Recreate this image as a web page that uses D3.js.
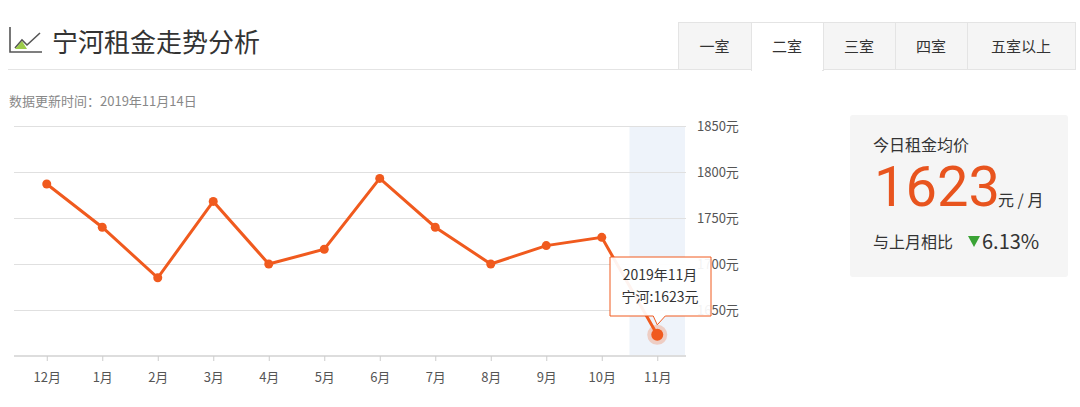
<!DOCTYPE html>
<html><head><meta charset="utf-8">
<script src="https://cdn.jsdelivr.net/npm/d3@7"></script>
<style>
body{margin:0;background:#fff;font-family:"Noto Sans CJK SC",sans-serif;}
</style></head><body>
<svg id="c" width="1080" height="407"></svg>
<script>
const months = ["12月","1月","2月","3月","4月","5月","6月","7月","8月","9月","10月","11月"];
const rents = [1787,1740,1685,1768,1700,1716,1793,1740,1700,1720,1729,1623];
const yTicks = [1650,1700,1750,1800,1850];
const tabs = ["一室","二室","三室","四室","五室以上"];
const orange = "#f05a1e";

const svg = d3.select("#c");

// header
svg.append("path").attr("d","M10 27 V52 H42").attr("fill","none").attr("stroke","#555").attr("stroke-width",1.6);
svg.append("path").attr("d","M15 48 L22 40 L27 45 L40 33").attr("fill","none").attr("stroke","#555").attr("stroke-width",1.6);
svg.append("path").attr("d","M15 49 L22 41 L27 49 Z").attr("fill","#9ccc4a");
svg.append("text").attr("x",52).attr("y",52).attr("font-size",26).attr("fill","#333").text("宁河租金走势分析");
svg.append("line").attr("x1",8).attr("x2",1075).attr("y1",69.5).attr("y2",69.5).attr("stroke","#e4e4e4");

const tabX = [678,751,823,895,967,1075];
tabs.forEach((t,i)=>{
  const g = svg.append("g");
  g.append("rect").attr("x",tabX[i]+0.5).attr("y",22.5).attr("width",tabX[i+1]-tabX[i]).attr("height",i===1?48:47)
    .attr("fill",i===1?"#fff":"#f5f5f5").attr("stroke","#e4e4e4");
  g.append("text").attr("x",(tabX[i]+tabX[i+1])/2).attr("y",52).attr("text-anchor","middle")
    .attr("font-size",15).attr("fill","#333").text(t);
});
svg.append("rect").attr("x",752).attr("y",68).attr("width",70).attr("height",4).attr("fill","#fff");

svg.append("text").attr("x",9).attr("y",106).attr("font-size",13).attr("fill","#888").text("数据更新时间：2019年11月14日");

// chart
const x = d3.scalePoint().domain(months).range([19,685]).padding(0.5);
const y = d3.scaleLinear().domain([1600,1850]).range([356,126]);
const step = x.step();

svg.append("rect").attr("x",x("11月")-step/2).attr("y",126).attr("width",step).attr("height",230).attr("fill","#eef3fa");

svg.append("g").selectAll("line").data(yTicks).join("line")
  .attr("x1",14).attr("x2",686).attr("y1",d=>y(d)+0.5).attr("y2",d=>y(d)+0.5).attr("stroke","#e0e0e0");
svg.append("text").selectAll("tspan").data(yTicks).join("tspan")
  .attr("x",697).attr("y",d=>y(d)+5).attr("font-size",13).attr("fill","#555").text(d=>d+"元");

const xAxis = svg.append("g").attr("transform","translate(0,356)")
  .call(d3.axisBottom(x).tickSize(5).tickSizeOuter(0));
xAxis.select(".domain").attr("stroke","#ddd").attr("stroke-width",2).attr("d","M14,0H686");
xAxis.selectAll(".tick line").attr("stroke","#ccc");
xAxis.selectAll("text").attr("font-size",13).attr("fill","#555").attr("dy","1.4em").attr("font-family","Noto Sans CJK SC");

const line = d3.line().x((d,i)=>x(months[i])).y(d=>y(d));
svg.append("path").datum(rents).attr("d",line).attr("fill","none").attr("stroke",orange).attr("stroke-width",3);
svg.append("g").selectAll("circle").data(rents.slice(0,-1)).join("circle")
  .attr("cx",(d,i)=>x(months[i])).attr("cy",d=>y(d)).attr("r",4.5).attr("fill",orange);
const last = rents.length-1;
svg.append("circle").attr("cx",x(months[last])).attr("cy",y(rents[last])).attr("r",10).attr("fill",orange).attr("opacity",0.25);
svg.append("circle").attr("cx",x(months[last])).attr("cy",y(rents[last])).attr("r",6).attr("fill",orange);

// tooltip
const tx = x(months[last]), ty = y(rents[last]);
svg.append("path")
  .attr("d",`M610,257 H711 V316 H${tx+8} L${tx},${ty-10} L${tx-4},316 H610 Z`)
  .attr("fill","rgba(255,255,255,0.93)").attr("stroke",orange).attr("stroke-width",1);
svg.append("text").attr("x",660).attr("y",280).attr("text-anchor","middle").attr("font-size",14).attr("fill","#333").text("2019年11月");
svg.append("text").attr("x",660).attr("y",302).attr("text-anchor","middle").attr("font-size",14).attr("fill","#333").text("宁河:"+rents[last]+"元");

// right card
svg.append("rect").attr("x",850).attr("y",115).attr("width",218).attr("height",162).attr("rx",3).attr("fill","#f5f5f5");
svg.append("text").attr("x",873).attr("y",151).attr("font-size",16).attr("fill","#333").text("今日租金均价");
svg.append("text").attr("x",874).attr("y",206).attr("font-size",56).attr("fill","#e8541e").attr("font-family","Roboto").text(rents[last]);
svg.append("text").attr("x",998).attr("y",206).attr("font-size",16).attr("fill","#333").text("元 / 月");
svg.append("text").attr("x",873).attr("y",248).attr("font-size",16).attr("fill","#333").text("与上月相比");
svg.append("path").attr("d","M968,236 L980,236 L974,247 Z").attr("fill","#3aa335");
svg.append("text").attr("x",982).attr("y",249).attr("font-size",20).attr("fill","#333").text("6.13%");
</script></body></html>
